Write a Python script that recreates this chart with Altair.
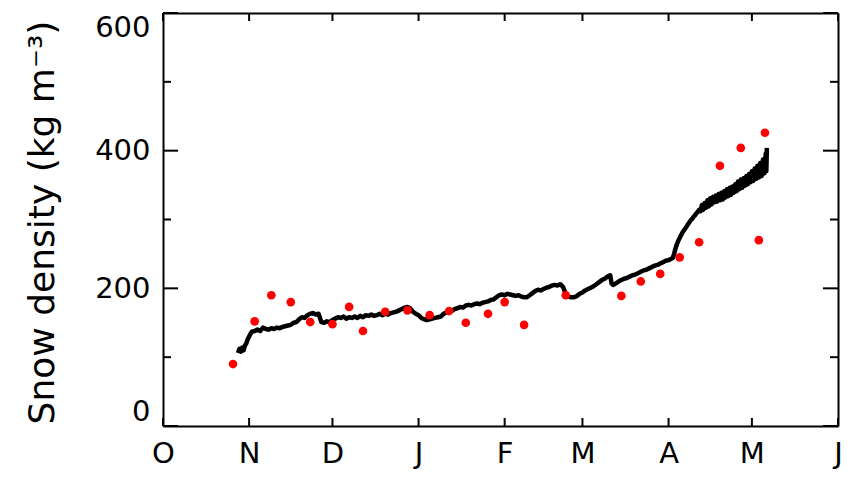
import altair as alt
import pandas as pd

# ---- data (days after 1 Oct, value in kg m-3) ----
line_day = [27, 27.5, 28, 28.5, 29, 29.5, 30, 30.5, 31, 31.5, 32, 33, 34, 35, 36, 37, 38, 39, 40,
            41, 42, 43, 44, 45, 46, 47, 48, 49, 50, 51, 52, 53, 54, 55, 56, 57, 58, 59, 60,
            61, 62, 63, 64, 65, 66, 67, 68, 69, 70, 71, 72, 73, 74, 75, 76, 77, 78, 79, 80,
            81, 82, 83, 84, 85, 86, 87, 88, 89, 90, 91, 92, 93, 94, 95, 96, 97, 98, 99, 100,
            101, 102, 103, 104, 105, 106, 107, 108, 109, 110, 111, 112, 113, 114, 115, 116, 117, 118, 119, 120,
            121, 122, 123, 124, 125, 126, 127, 128, 129, 130, 131, 132, 133, 134, 135, 136, 137, 138, 139, 140,
            141, 142, 143, 144, 145, 146, 147, 148, 149, 150, 151, 152, 153, 154, 155, 156, 157, 158, 159, 160,
            161, 161.5, 162, 163, 164, 165, 166, 167, 168, 169, 170, 171, 172, 173, 174, 175, 176, 177, 178, 179, 180,
            181, 182, 183, 183.5, 184, 184.5, 185, 185.5, 186, 186.5, 187, 187.5, 188, 188.5, 189, 189.5, 190,
            190.5, 191, 191.5, 192, 192.5, 193, 193.5, 194, 194.5, 195, 195.5, 196, 196.5, 197, 197.5, 198,
            198.5, 199, 199.5, 200, 200.5, 201, 201.5, 202, 202.5, 203, 203.5, 204, 204.5, 205, 205.5, 206,
            206.5, 207, 207.5, 208, 208.5, 209, 209.5, 210, 210.5, 211, 211.5, 212, 212.5, 213, 213.5, 214,
            214.5, 215, 215.5, 216, 216.5, 217, 217.2, 217.4]
line_val = [106, 112, 108, 114, 110, 117, 120, 126, 130, 134, 137, 138, 140, 138, 143, 141, 140, 142, 141,
            143, 142, 144, 145, 146, 147, 150, 151, 155, 158, 157, 161, 163, 164, 162, 163, 151, 150, 152, 151,
            154, 156, 158, 157, 159, 156, 158, 157, 159, 157, 160, 158, 161, 160, 162, 160, 161, 163, 161, 163,
            162, 164, 165, 166, 168, 170, 172, 173, 171, 166, 163, 161, 157, 155, 154, 155, 156, 157, 158, 159,
            163, 165, 168, 167, 170, 171, 173, 172, 175, 176, 175, 177, 178, 177, 179, 180, 181, 183, 184, 187,
            190, 191, 190, 192, 191, 190, 189, 190, 188, 187, 187, 190, 193, 196, 198, 197, 199, 201, 202, 204,
            205, 204, 206, 202, 192, 188, 187, 187, 189, 192, 194, 197, 199, 201, 203, 206, 209, 212, 214, 217,
            219, 207, 205, 207, 210, 212, 214, 215, 217, 219, 220, 222, 224, 226, 227, 229, 231, 233, 234, 236, 238,
            240, 241, 243, 244, 250, 258, 264, 269, 273, 277, 281, 284, 287, 290, 293, 296, 299,
            301, 304, 306, 309, 311, 314, 312, 321, 314, 324, 317, 328, 319, 331, 322, 333,
            325, 335, 326, 337, 328, 339, 329, 341, 332, 344, 334, 346, 336, 348, 339, 351,
            341, 355, 344, 358, 346, 360, 349, 363, 351, 366, 354, 370, 356, 374, 359, 378,
            361, 382, 363, 387, 367, 396, 370, 404]

obs_day = [25.2, 33, 39, 46, 53, 61, 67, 72, 80, 88, 96, 103, 109, 117, 123, 130,
           145, 165, 172, 179, 186, 193, 200.5, 208, 214.5, 216.7]
obs_val = [90, 152, 190, 180, 151, 148, 173, 138, 166, 168, 161, 167, 150, 163, 180, 147,
           190, 189, 210, 221, 245, 267, 378, 404, 270, 426]

month_starts = ["1996-10-01", "1996-11-01", "1996-12-01", "1997-01-01", "1997-02-01",
                "1997-03-01", "1997-04-01", "1997-05-01", "1997-06-01"]
y_major = [0, 200, 400, 600]
y_minor = [100, 300, 500]

BASE = pd.Timestamp("1996-10-01")


def to_ms(days):
    return [int((BASE + pd.to_timedelta(d, unit="D")).value // 10**6) for d in days]


month_ms = [int(pd.Timestamp(m).value // 10**6) for m in month_starts]

line_df = pd.DataFrame({"t": to_ms(line_day), "v": line_val})
obs_df = pd.DataFrame({"t": to_ms(obs_day), "v": obs_val})
month_df = pd.DataFrame({"t": month_ms})
ymaj_df = pd.DataFrame({"v": y_major})
ymin_df = pd.DataFrame({"v": y_minor})

W, H = 675, 413
FONT = "DejaVu Sans"

xscale = alt.Scale(type="utc", domain=[month_ms[0], month_ms[-1]], nice=False)
yscale = alt.Scale(domain=[0, 600], nice=False, zero=False)

frame = dict(domain=True, domainColor="black", domainWidth=2, ticks=False, grid=False)

xaxis = alt.Axis(values=month_ms, labelExpr="substring(utcFormat(datum.value, '%b'), 0, 1)",
                 labelPadding=13, labelFontSize=29,
                 labelFont=FONT, labelColor="black", labelOverlap=False, labelFlush=False,
                 labelBound=False, title=None, **frame)
yaxis = alt.Axis(values=y_major, labelPadding=13,
                 labelFontSize=29, labelFont=FONT, labelColor="black",
                 title="Snow density (kg m⁻³)", titleFontSize=36, titleFont=FONT,
                 titleFontWeight="normal", titleColor="black", titleX=-121, titleY=209,
                 titleBaseline="middle", labelFlush=True, labelOverlap=False, **frame)
xaxis_top = alt.Axis(orient="top", labels=False, title=None, **frame)
yaxis_right = alt.Axis(orient="right", labels=False, title=None, **frame)

line = alt.Chart(line_df).mark_line(color="black", strokeWidth=4.5, strokeJoin="round").encode(
    x=alt.X("t:T", scale=xscale, axis=xaxis),
    y=alt.Y("v:Q", scale=yscale, axis=yaxis),
)
pts = alt.Chart(obs_df).mark_circle(color="#ff0000", size=75, opacity=1).encode(
    x=alt.X("t:T", scale=xscale, axis=None),
    y=alt.Y("v:Q", scale=yscale, axis=None),
)

rule_kw = dict(color="black", strokeWidth=2)
xb = alt.Chart(month_df).mark_rule(**rule_kw).encode(
    x=alt.X("t:T", scale=xscale, axis=None), y=alt.value(H), y2=alt.value(H - 8))
xt = alt.Chart(month_df).mark_rule(**rule_kw).encode(
    x=alt.X("t:T", scale=xscale, axis=xaxis_top), y=alt.value(0), y2=alt.value(8))
yl_maj = alt.Chart(ymaj_df).mark_rule(**rule_kw).encode(
    y=alt.Y("v:Q", scale=yscale, axis=None), x=alt.value(0), x2=alt.value(15))
yr_maj = alt.Chart(ymaj_df).mark_rule(**rule_kw).encode(
    y=alt.Y("v:Q", scale=yscale, axis=yaxis_right), x=alt.value(W - 15), x2=alt.value(W))
yl_min = alt.Chart(ymin_df).mark_rule(**rule_kw).encode(
    y=alt.Y("v:Q", scale=yscale, axis=None), x=alt.value(0), x2=alt.value(8))
yr_min = alt.Chart(ymin_df).mark_rule(**rule_kw).encode(
    y=alt.Y("v:Q", scale=yscale, axis=None), x=alt.value(W - 8), x2=alt.value(W))

chart = alt.layer(line, xb, xt, yl_maj, yr_maj, yl_min, yr_min, pts).resolve_axis(
    x="independent", y="independent"
).properties(
    width=W, height=H,
    autosize=alt.AutoSizeParams(type="none"),
    padding={"left": 155, "top": 5, "right": 10, "bottom": 44},
).configure_view(stroke="black", strokeWidth=2).configure(background="white")

chart.save("out.html", embed_options={"renderer": "svg", "actions": False})
